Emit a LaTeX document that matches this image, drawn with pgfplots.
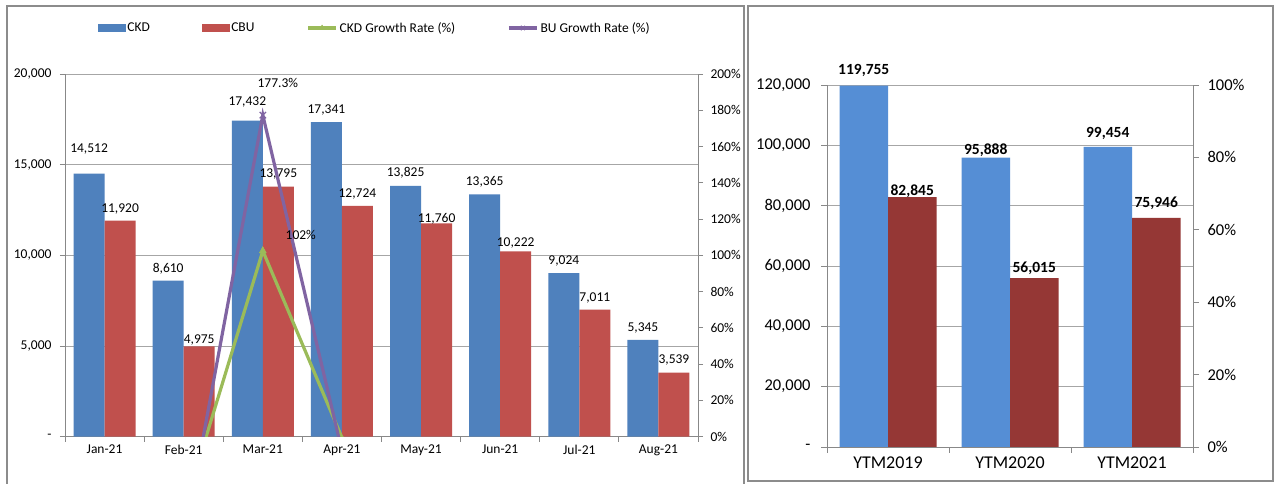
\documentclass[border=0pt]{standalone}
\usepackage{pgfplots}
\pgfplotsset{compat=1.18}
\usepackage{pgfplotstable}
\usepackage{fontspec}
\setmainfont{Carlito}
\definecolor{lblue}{HTML}{4F81BD}
\definecolor{lred}{HTML}{C0504D}
\definecolor{lgreen}{HTML}{9BBB59}
\definecolor{lpurple}{HTML}{8064A2}
\definecolor{rblue}{HTML}{558ED5}
\definecolor{rred}{HTML}{953735}
\definecolor{gridc}{HTML}{A6A6A6}
\definecolor{axc}{HTML}{888888}
\definecolor{framec}{HTML}{8C8C8C}

\pgfplotsset{
  mylinelegend/.style={legend image code/.code={\draw[mark repeat=2,mark phase=2,##1, mark size=3pt] plot coordinates {(0pt,0pt) (14pt,0pt) (28pt,0pt)};}},
  lbluelegend/.style={legend image code/.code={\fill[lblue] (0pt,-3.5pt) rectangle (27pt,3.5pt);}},
  lredlegend/.style={legend image code/.code={\fill[lred] (0pt,-3.5pt) rectangle (27pt,3.5pt);}},
}

\pgfplotstableread{
x ckd ckdoff cbu cbuoff
0 14512 24.5 11920 12
1 8610 12 4975 6.5
2 17432 19 13795 12.5
3 17341 12 12724 12
4 13825 13 11760 5
5 13365 12.6 10222 8
6 9024 12 7011 12
7 5345 12 3539 13
}\monthly

\pgfplotstableread{
x g
1 -40.7
2 102.5
3 -0.5
4 -20.3
5 -3.3
6 -32.5
7 -40.8
}\ckdgrowth

\pgfplotstableread{
x g
1 -58.3
2 177.3
3 -7.8
4 -7.6
5 -13.1
6 -31.4
7 -49.5
}\cbugrowth

\pgfplotstableread{
x blue blueoff red redoff
0 119755 15 82845 6
1 95888 8 56015 10
2 99454 14 75946 15
}\ytm

\newcommand{\fs}{\fontsize{13.5}{16}\selectfont}
\newcommand{\fr}{\fontsize{16.5}{19}\selectfont}

\begin{document}
\begin{tikzpicture}
\useasboundingbox (0pt,0pt) rectangle (1276pt,484pt);
\fill[white] (0pt,0pt) rectangle (1276pt,484pt);
% frames
\draw[framec, line width=1.2pt] (7pt,-2pt) -- (7pt,478pt) -- (744pt,478pt) -- (744pt,-2pt);
\draw[framec, line width=1.2pt] (748pt,3pt) rectangle (1273pt,478pt);

\pgfplotsset{
  every axis/.append style={
    scaled y ticks=false,
    /pgf/number format/.cd, fixed, precision=0, 1000 sep={,}, assume math mode=true,
    /pgfplots/.cd,
  },
}

% ---------------- left panel: bars ----------------
\begin{axis}[
  at={(65pt,47.3pt)}, anchor=south west,
  scale only axis, width=633pt, height=362.7pt,
  xmin=-0.5, xmax=7.5, ymin=0, ymax=20000,
  scaled y ticks=false,
  ybar=0pt, bar width=31pt,
  axis x line*=bottom, axis y line*=left,
  axis line style={axc, line width=0.8pt},
  tick style={axc, line width=0.8pt},
  tick align=outside, major tick length=5pt, minor tick length=5pt,
  ytick={0,5000,10000,15000,20000},
  yticklabels={-,{5,000},{10,000},{15,000},{20,000}},
  yticklabel style={xshift=-5pt},
  ymajorgrids, major grid style={gridc, line width=0.8pt},
  xtick={0,...,7},
  xticklabels={Jan-21,Feb-21,Mar-21,Apr-21,May-21,Jun-21,Jul-21,Aug-21},
  major x tick style={draw=none},
  minor xtick={-0.5,0.5,...,7.5},
  tick label style={font=\fs, text=black},
  nodes near coords={\pgfmathprintnumber{\pgfplotspointmeta}},
  every node near coord/.append style={font=\fs, text=black},
]
\addplot[fill=lblue, draw=none,
  visualization depends on={\thisrow{ckdoff} \as \off},
  every node near coord/.append style={anchor=center, yshift=\off pt}]
  table[x=x, y=ckd] {\monthly};
\addplot[fill=lred, draw=none,
  visualization depends on={\thisrow{cbuoff} \as \off},
  every node near coord/.append style={anchor=center, yshift=\off pt}]
  table[x=x, y=cbu] {\monthly};
\end{axis}

% ---------------- left panel: growth rates ----------------
\begin{axis}[
  at={(65pt,47.3pt)}, anchor=south west,
  scale only axis, width=633pt, height=362.7pt,
  xmin=-0.5, xmax=7.5, ymin=0, ymax=200,
  axis x line=none, axis y line*=right,
  axis line style={axc, line width=0.8pt},
  tick style={axc, line width=0.8pt},
  tick align=outside, major tick length=5pt,
  ytick={0,20,...,200},
  yticklabels={0\%,20\%,40\%,60\%,80\%,100\%,120\%,140\%,160\%,180\%,200\%},
  yticklabel style={xshift=4pt},
  tick label style={font=\fs, text=black},
  clip marker paths=true,
  legend style={at={(0.0521,1.1268)}, anchor=west, draw=none, fill=none,
    inner sep=0pt, outer sep=0pt, font=\fs, legend columns=4,
    nodes={inner sep=2pt},
    /tikz/every even column/.append style={column sep=50pt}},
  legend cell align=left,
]
\addlegendimage{lbluelegend}
\addlegendentry{CKD}
\addlegendimage{lredlegend}
\addlegendentry{CBU}
\addplot[lgreen, line width=3.2pt, mark=triangle*, mark size=4pt,
  mark options={line width=0.5pt}, mylinelegend]
  table[x=x, y=g] {\ckdgrowth};
\addlegendentry{CKD Growth Rate (\%)}
\addplot[lpurple, line width=3.2pt, mark=x, mark size=4.5pt,
  mark options={line width=1.2pt}, mylinelegend]
  table[x=x, y=g] {\cbugrowth};
\addlegendentry{BU Growth Rate (\%)}
\node[font=\fs, text=black] at (axis cs:2.19,195.2) {177.3\%};
\node[font=\fs, text=black] at (axis cs:2.48,111.2) {102\%};
\end{axis}

% ---------------- right panel ----------------
\begin{axis}[
  at={(827pt,37pt)}, anchor=south west,
  scale only axis, width=366pt, height=362pt,
  xmin=-0.5, xmax=2.5, ymin=0, ymax=120000,
  scaled y ticks=false,
  ybar=0pt, bar width=48.5pt,
  axis x line*=bottom, axis y line*=left,
  axis line style={axc, line width=0.8pt},
  tick style={axc, line width=0.8pt},
  tick align=outside, major tick length=6pt, minor tick length=6pt,
  ytick={0,20000,...,120000},
  yticklabels={-,{20,000},{40,000},{60,000},{80,000},{100,000},{120,000}},
  yticklabel style={xshift=-7pt},
  ymajorgrids, major grid style={gridc, line width=0.8pt},
  xtick={0,1,2},
  xticklabels={YTM2019,YTM2020,YTM2021},
  major x tick style={draw=none},
  minor xtick={-0.5,0.5,1.5,2.5},
  tick label style={font=\fr, text=black},
  xticklabel style={font=\fontsize{18}{21}\selectfont},
  nodes near coords={\pgfmathprintnumber{\pgfplotspointmeta}},
  every node near coord/.append style={font=\fontsize{15.5}{18}\selectfont\bfseries, text=black},
]
\addplot[fill=rblue, draw=none,
  visualization depends on={\thisrow{blueoff} \as \off},
  every node near coord/.append style={anchor=center, yshift=\off pt}]
  table[x=x, y=blue] {\ytm};
\addplot[fill=rred, draw=none,
  visualization depends on={\thisrow{redoff} \as \off},
  every node near coord/.append style={anchor=center, yshift=\off pt}]
  table[x=x, y=red] {\ytm};
\end{axis}

\begin{axis}[
  at={(827pt,37pt)}, anchor=south west,
  scale only axis, width=366pt, height=362pt,
  xmin=-0.5, xmax=2.5, ymin=0, ymax=100,
  axis x line=none, axis y line*=right,
  axis line style={axc, line width=0.8pt},
  tick style={axc, line width=0.8pt},
  tick align=outside, major tick length=6pt,
  ytick={0,20,...,100},
  yticklabels={0\%,20\%,40\%,60\%,80\%,100\%},
  yticklabel style={xshift=5pt},
  tick label style={font=\fr, text=black},
]
\addplot[draw=none] coordinates {(0,0)};
\end{axis}
\end{tikzpicture}
\end{document}
